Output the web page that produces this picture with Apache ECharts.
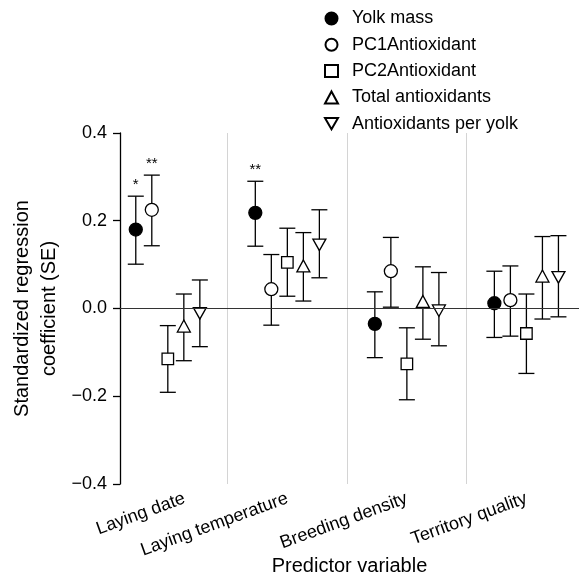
<!DOCTYPE html>
<html>
<head>
<meta charset="utf-8">
<script src="https://cdn.jsdelivr.net/npm/echarts@6/dist/echarts.min.js"></script>
<style>
	html, body { margin: 0; padding: 0; background: #fff; }
	#chart { width: 579px; height: 577px; }
</style>
</head>
<body>
<div id="chart"></div>
<script>
// predictor categories on the x axis
let categories = ['Laying date', 'Laying temperature', 'Breeding density', 'Territory quality'];
let yTicks = [-0.4, -0.2, 0.0, 0.2, 0.4];

// standardized coefficients, lower / upper end of the SE bar, significance marks
let yolkMass = [0.180, 0.218, -0.035, 0.012];
let yolkLow = [0.101, 0.142, -0.112, -0.066];
let yolkHigh = [0.256, 0.290, 0.038, 0.085];
let yolkSig = ['*', '**', '', ''];

let pc1 = [0.225, 0.044, 0.085, 0.019];
let pc1Low = [0.143, -0.038, 0.003, -0.063];
let pc1High = [0.304, 0.123, 0.162, 0.097];
let pc1Sig = ['**', '', '', ''];

let pc2 = [-0.115, 0.105, -0.126, -0.057];
let pc2Low = [-0.191, 0.028, -0.208, -0.148];
let pc2High = [-0.039, 0.183, -0.044, 0.033];
let pc2Sig = ['', '', '', ''];

let totalAnti = [-0.040, 0.097, 0.016, 0.074];
let totalLow = [-0.119, 0.017, -0.070, -0.024];
let totalHigh = [0.033, 0.173, 0.095, 0.164];
let totalSig = ['', '', '', ''];

let perYolk = [-0.011, 0.145, -0.005, 0.071];
let perYolkLow = [-0.087, 0.070, -0.085, -0.019];
let perYolkHigh = [0.065, 0.225, 0.082, 0.166];
let perYolkSig = ['', '', '', ''];

let font = 'Liberation Sans';
let dodge = [-0.268, -0.134, 0, 0.134, 0.268];
let invTri = 'path://M0,0 L10,0 L5,8.66 Z';

let groups = [
	{ name: 'Yolk mass', est: yolkMass, low: yolkLow, high: yolkHigh, sig: yolkSig, symbol: 'circle', size: 13, fill: '#000' },
	{ name: 'PC1Antioxidant', est: pc1, low: pc1Low, high: pc1High, sig: pc1Sig, symbol: 'circle', size: 13, fill: '#fff' },
	{ name: 'PC2Antioxidant', est: pc2, low: pc2Low, high: pc2High, sig: pc2Sig, symbol: 'rect', size: 11.5, fill: '#fff' },
	{ name: 'Total antioxidants', est: totalAnti, low: totalLow, high: totalHigh, sig: totalSig, symbol: 'triangle', size: [13, 12], fill: '#fff' },
	{ name: 'Antioxidants per yolk', est: perYolk, low: perYolkLow, high: perYolkHigh, sig: perYolkSig, symbol: invTri, size: [13, 11.5], fill: '#fff' }
];

let chart = echarts.init(document.getElementById('chart'));
let series = [];

groups.forEach(function(g, k) {
	let bars = {
		name: g.name + ' SE',
		type: 'custom',
		z: 2,
		encode: { x: 0, y: [1, 2] },
		data: g.est.map(function(v, i) { return [i + dodge[k], g.low[i], g.high[i]]; }),
		renderItem: function(params, api) {
			let x = api.value(0);
			let top = api.coord([x, api.value(2)]);
			let bot = api.coord([x, api.value(1)]);
			let c = 8;
			let st = { stroke: '#000', lineWidth: 1.3 };
			let kids = [
				{ type: 'line', shape: { x1: top[0], y1: top[1], x2: bot[0], y2: bot[1] }, style: st },
				{ type: 'line', shape: { x1: top[0] - c, y1: top[1], x2: top[0] + c, y2: top[1] }, style: st },
				{ type: 'line', shape: { x1: bot[0] - c, y1: bot[1], x2: bot[0] + c, y2: bot[1] }, style: st }
			];
			let s = g.sig[params.dataIndex];
			if (s) {
				kids.push({
					type: 'text',
					style: { text: s, x: top[0], y: top[1] - 4, align: 'center', verticalAlign: 'bottom', font: '15px ' + font, fill: '#000' }
				});
			}
			return { type: 'group', children: kids };
		}
	};
	if (k == 0) {
		bars.markLine = {
			silent: true,
			symbol: 'none',
			label: { show: false },
			data: [
				{ xAxis: 0.5, lineStyle: { color: '#d4d4d4', width: 1, type: 'solid' } },
				{ xAxis: 1.5, lineStyle: { color: '#d4d4d4', width: 1, type: 'solid' } },
				{ xAxis: 2.5, lineStyle: { color: '#d4d4d4', width: 1, type: 'solid' } },
				{ yAxis: 0, lineStyle: { color: '#333', width: 1.2, type: 'solid' } }
			]
		};
	}
	series.push(bars);
	series.push({
		name: g.name,
		type: 'scatter',
		z: 3,
		symbol: g.symbol,
		symbolSize: g.size,
		itemStyle: { color: g.fill, borderColor: '#000', borderWidth: 1.3, opacity: 1 },
		data: g.est.map(function(v, i) { return [i + dodge[k], v]; })
	});
});

let option = {
	animation: false,
	textStyle: { fontFamily: font },
	legend: {
		orient: 'vertical',
		left: 324,
		top: 9.5,
		padding: 0,
		itemWidth: 13,
		itemHeight: 12,
		itemGap: 8.3,
		data: groups.map(function(g) { return g.name; }),
		textStyle: { fontFamily: font, fontSize: 18, lineHeight: 18, color: '#000', padding: [0, 0, 0, 9] }
	},
	grid: {
		left: 120,
		right: 0,
		top: 133,
		bottom: 93,
		outerBoundsMode: 'none'
	},
	xAxis: {
		type: 'value',
		min: -0.4,
		max: 3.44,
		name: 'Predictor variable',
		nameLocation: 'middle',
		nameGap: 72,
		nameMoveOverlap: false,
		nameTextStyle: { fontFamily: font, fontSize: 20, color: '#000' },
		axisLine: { show: false },
		axisTick: { show: false },
		splitLine: { show: false },
		axisLabel: {
			customValues: [0.14, 1, 2, 3],
			formatter: function(v) { return categories[Math.round(v)]; },
			rotate: 20,
			margin: 14,
			fontFamily: font,
			fontSize: 18,
			color: '#000'
		}
	},
	yAxis: {
		type: 'value',
		min: yTicks[0],
		max: yTicks[yTicks.length - 1],
		interval: 0.2,
		name: 'Standardized regression\ncoefficient (SE)',
		nameLocation: 'middle',
		nameGap: 57,
		nameMoveOverlap: false,
		nameTextStyle: { fontFamily: font, fontSize: 20, lineHeight: 27, color: '#000' },
		axisLine: { show: true, onZero: false, lineStyle: { color: '#000', width: 1.3 } },
		axisTick: { show: true, length: 7, lineStyle: { color: '#000', width: 1.3 } },
		splitLine: { show: false },
		axisLabel: {
			margin: 13,
			fontFamily: font,
			fontSize: 18,
			color: '#000',
			formatter: function(v) { return v.toFixed(1).replace('-', '\u2212'); }
		}
	},
	series: series
};
chart.setOption(option);
</script>
</body>
</html>
